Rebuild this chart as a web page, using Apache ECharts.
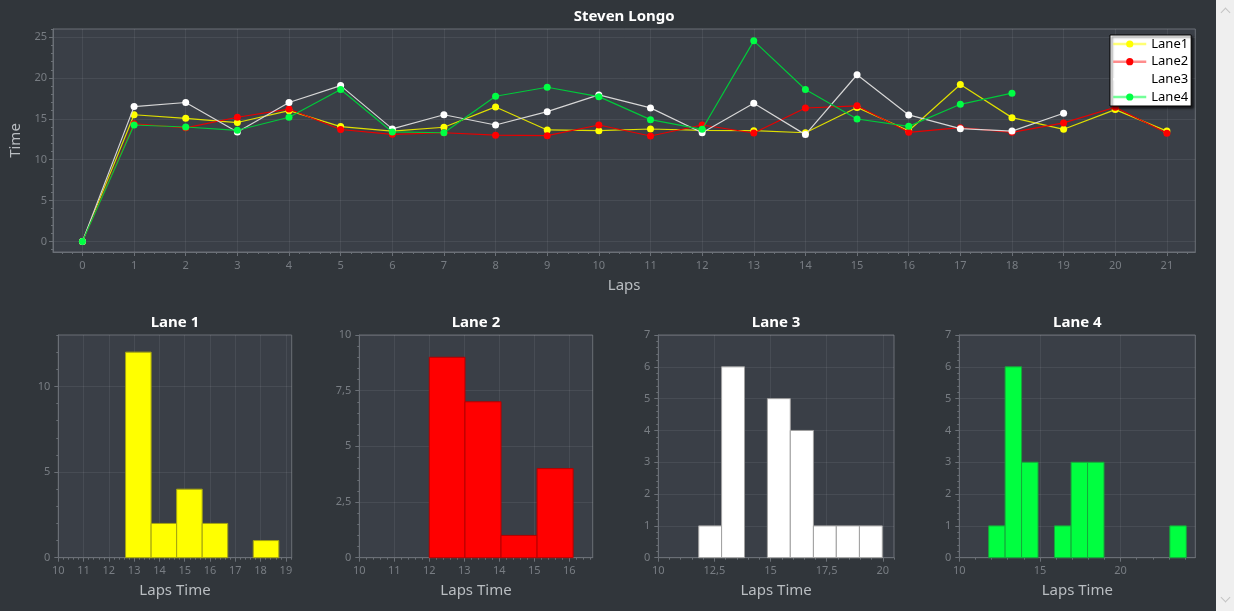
<!DOCTYPE html>
<html><head><meta charset="utf-8">
<script src="https://cdn.jsdelivr.net/npm/echarts@6/dist/echarts.min.js"></script>
<style>
html,body{margin:0;padding:0;background:#31363b;overflow:hidden;width:1234px;height:611px}
#chart{position:absolute;left:0;top:0;width:1216px;height:611px}
#sb{position:absolute;left:1216px;top:0;width:18px;height:611px;background:#efefef}
.chev{position:absolute;left:6px;width:6px;height:6px;border-left:1px solid #c4c4c4;border-top:1px solid #c4c4c4}
</style></head>
<body>
<div id="chart"></div>
<div id="sb"><div class="chev" style="top:9px;transform:rotate(45deg)"></div><div class="chev" style="top:594px;transform:rotate(225deg)"></div></div>
<script>
// ---------- data ----------
const laps = [0,1,2,3,4,5,6,7,8,9,10,11,12,13,14,15,16,17,18,19,20,21];
const lane1Times = [0,15.5,15.07,14.55,16.0,14.05,13.5,13.97,16.46,13.64,13.55,13.76,13.6,13.55,13.3,16.4,13.55,19.2,15.15,13.72,16.13,13.5];
const lane2Times = [0,14.4,13.9,15.2,16.2,13.7,13.1,13.3,13.0,12.94,14.25,12.9,14.25,13.27,16.33,16.6,13.35,13.92,13.35,14.5,16.42,13.23];
const lane3Times = [0,16.5,17.0,13.4,17.0,19.07,13.77,15.5,14.25,15.88,17.93,16.34,13.3,16.9,13.07,20.4,15.48,13.8,13.5,15.69];
const lane4Times = [0,14.25,14.0,13.6,15.2,18.6,13.4,13.3,17.77,18.87,17.72,14.9,13.72,24.55,18.6,14.98,14.08,16.78,18.14];
const seriesNames = ['Lane1','Lane2','Lane3','Lane4'];
const topXTicks = [0,1,2,3,4,5,6,7,8,9,10,11,12,13,14,15,16,17,18,19,20,21];
const topYTicks = [0,5,10,15,20,25];

const lane1Edges = [12.66,13.67,14.68,15.69,16.70,17.71,18.72];
const lane1Counts = [12,2,4,2,0,1];
const lane2Edges = [12.0,13.02,14.05,15.08,16.11];
const lane2Counts = [9,7,1,4];
const lane3Edges = [11.8,12.82,13.84,14.86,15.88,16.91,17.93,18.96,19.98];
const lane3Counts = [1,6,0,5,4,1,1,1];
const lane4Edges = [11.82,12.84,13.86,14.88,15.9,16.93,17.95,18.97,19.99,21.01,22.03,23.05,24.07];
const lane4Counts = [1,6,3,0,1,3,3,0,0,0,0,1];

const h1XTicks = [10,11,12,13,14,15,16,17,18,19];
const h1YTicks = [0,5,10];
const h2XTicks = [10,11,12,13,14,15,16];
const h2YTicks = [0,2.5,5,7.5,10];
const h3XTicks = [10,12.5,15,17.5,20];
const h3YTicks = [0,1,2,3,4,5,6,7];
const h4XTicks = [10,15,20];
const h4YTicks = [0,1,2,3,4,5,6,7];

// ---------- style ----------
const FONT = 'Noto Sans';
const PLOT_BG = '#3a3f47';
const BORDER = '#6a6f76';
const GRIDLINE = 'rgba(255,255,255,0.07)';
const LABEL = '#787d83';
const NAMEC = '#b9bdc1';

const grids = [], xAxes = [], yAxes = [], series = [], graphics = [];

function minorVals(min, max, step, majors) {
  const out = [];
  let v = Math.ceil(min / step - 1e-9) * step;
  for (; v <= max + 1e-9; v += step) {
    const r = Math.round(v * 1000) / 1000;
    if (!majors.some(m => Math.abs(m - r) < 1e-6)) out.push(r);
  }
  return out;
}
const fmt = v => String(Math.round(v * 1000) / 1000).replace('.', ',');

function addPanel(c) {
  const g = grids.length;
  grids.push({left:c.left, top:c.top, width:c.width, height:c.height, show:true,
    backgroundColor:PLOT_BG, borderColor:BORDER, borderWidth:1});
  xAxes.push({type:'value', gridIndex:g, position:'bottom', min:c.xMin, max:c.xMax,
    name:c.xName, nameLocation:'middle', nameGap:c.xNameGap,
    nameTextStyle:{color:NAMEC, fontSize:15, fontFamily:FONT},
    axisLine:{show:true, onZero:false, lineStyle:{color:BORDER}},
    axisTick:{show:true, length:4, customValues:c.xTicks, lineStyle:{color:BORDER}},
    axisLabel:{show:true, customValues:c.xTicks, formatter:fmt, color:LABEL, fontSize:11, fontFamily:FONT, margin:c.xMargin},
    splitLine:{show:true, lineStyle:{color:GRIDLINE}}});
  xAxes.push({type:'value', gridIndex:g, position:'bottom', min:c.xMin, max:c.xMax,
    axisLine:{show:false, onZero:false}, axisLabel:{show:false}, splitLine:{show:false},
    axisTick:{show:true, length:2, customValues:minorVals(c.xMin, c.xMax, c.xMinor, c.xTicks), lineStyle:{color:BORDER}}});
  yAxes.push({type:'value', gridIndex:g, position:'left', min:c.yMin, max:c.yMax,
    name:c.yName, nameLocation:'middle', nameGap:c.yNameGap || 25,
    nameTextStyle:{color:NAMEC, fontSize:15, fontFamily:FONT},
    axisLine:{show:true, onZero:false, lineStyle:{color:BORDER}},
    axisTick:{show:true, length:4, customValues:c.yTicks, lineStyle:{color:BORDER}},
    axisLabel:{show:true, customValues:c.yTicks, formatter:fmt, color:LABEL, fontSize:11, fontFamily:FONT, margin:c.yMargin},
    splitLine:{show:true, lineStyle:{color:GRIDLINE}}});
  yAxes.push({type:'value', gridIndex:g, position:'left', min:c.yMin, max:c.yMax,
    axisLine:{show:false, onZero:false}, axisLabel:{show:false}, splitLine:{show:false},
    axisTick:{show:true, length:2, customValues:minorVals(c.yMin, c.yMax, c.yMinor, c.yTicks), lineStyle:{color:BORDER}}});
  graphics.push({type:'text', x:c.left + c.width / 2, y:c.titleY,
    style:{text:c.title, align:'center', verticalAlign:'middle', fill:'#ffffff',
      font:'bold 15px "' + FONT + '"'}});
  return 2 * g;
}

// top line chart
const topIdx = addPanel({left:53, top:29, width:1142.3, height:223,
  xMin:-0.57, xMax:21.55, yMin:-1.3, yMax:26, xTicks:topXTicks, yTicks:topYTicks,
  xMinor:0.2, yMinor:1, xName:'Laps', xNameGap:26, yName:'Time', yNameGap:26,
  xMargin:8, yMargin:6, title:'Steven Longo', titleY:17});

const lineColors = [
  {m:'#ffff00', l:'#dede00', leg:'rgba(255,255,0,0.55)'},
  {m:'#ff0000', l:'#e80000', leg:'rgba(255,0,0,0.45)'},
  {m:'#ffffff', l:'#d6d6d6', leg:'#ffffff'},
  {m:'#00ff44', l:'#00c93a', leg:'rgba(0,255,68,0.55)'}
];
[lane1Times, lane2Times, lane3Times, lane4Times].forEach((arr, k) => {
  series.push({type:'line', name:seriesNames[k], xAxisIndex:topIdx, yAxisIndex:topIdx,
    data:arr.map((t, i) => [laps[i], t]), symbol:'circle', symbolSize:7,
    itemStyle:{color:lineColors[k].m}, lineStyle:{color:lineColors[k].l, width:1.2},
    z:2 + k, animation:false});
});

// histograms
const hists = [
  {title:'Lane 1', edges:lane1Edges, counts:lane1Counts, left:58.3, width:233.4, xMax:19.23, yMax:13,
   xTicks:h1XTicks, yTicks:h1YTicks, xMinor:0.2, yMinor:1, fill:'#ffff00', stroke:'#a3a312'},
  {title:'Lane 2', edges:lane2Edges, counts:lane2Counts, left:359.3, width:233.4, xMax:16.67, yMax:10,
   xTicks:h2XTicks, yTicks:h2YTicks, xMinor:0.2, yMinor:0.5, fill:'#ff0000', stroke:'#b50000'},
  {title:'Lane 3', edges:lane3Edges, counts:lane3Counts, left:658.3, width:235.7, xMax:20.5, yMax:7,
   xTicks:h3XTicks, yTicks:h3YTicks, xMinor:0.5, yMinor:0.2, fill:'#ffffff', stroke:'#a0a0a0'},
  {title:'Lane 4', edges:lane4Edges, counts:lane4Counts, left:959.3, width:236, xMax:24.63, yMax:7,
   xTicks:h4XTicks, yTicks:h4YTicks, xMinor:1, yMinor:0.2, fill:'#00ff40', stroke:'#16a83a'}
];
hists.forEach(h => {
  const idx = addPanel({left:h.left, top:335, width:h.width, height:222.7,
    xMin:10, xMax:h.xMax, yMin:0, yMax:h.yMax, xTicks:h.xTicks, yTicks:h.yTicks,
    xMinor:h.xMinor, yMinor:h.yMinor, xName:'Laps Time', xNameGap:26, yName:'',
    xMargin:8, yMargin:8, title:h.title, titleY:323});
  const data = [];
  h.counts.forEach((c, i) => { if (c > 0) data.push([h.edges[i], h.edges[i + 1], c]); });
  series.push({type:'custom', xAxisIndex:idx, yAxisIndex:idx, data:data, encode:{x:[0,1], y:2},
    animation:false, silent:true,
    renderItem:(params, api) => {
      const p0 = api.coord([api.value(0), api.value(2)]);
      const p1 = api.coord([api.value(1), 0]);
      return {type:'rect', shape:{x:p0[0], y:p0[1], width:p1[0] - p0[0], height:p1[1] - p0[1]},
        style:{fill:h.fill, stroke:h.stroke, lineWidth:1}};
    }});
});

const legendData = seriesNames.map((n, k) => ({name:n,
  itemStyle:{color:lineColors[k].m},
  lineStyle:{color:lineColors[k].leg, width:2.5}}));

const chart = echarts.init(document.getElementById('chart'), null, {renderer:'canvas'});
chart.setOption({
  backgroundColor:'#31363b',
  animation:false,
  textStyle:{fontFamily:FONT},
  grid:grids, xAxis:xAxes, yAxis:yAxes, series:series,
  graphic:graphics,
  legend:{data:legendData, orient:'vertical', left:1110, top:35, width:80,
    backgroundColor:'#ffffff', borderColor:'#000000', borderWidth:1,
    shadowColor:'rgba(0,0,0,0.6)', shadowBlur:2, shadowOffsetX:2, shadowOffsetY:2,
    padding:[1.5,3,1.5,2], itemGap:2.67, itemWidth:33, itemHeight:9,
    textStyle:{color:'#000000', fontSize:13, lineHeight:15, fontFamily:FONT}, selectedMode:false}
});
</script>
</body></html>
